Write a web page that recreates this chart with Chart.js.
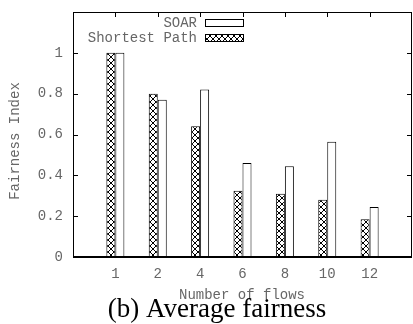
<!DOCTYPE html>
<html>
<head>
<meta charset="utf-8">
<script src="https://cdn.jsdelivr.net/npm/chart.js@4/dist/chart.umd.min.js"></script>
<style>
  html, body { margin: 0; padding: 0; background: #fff; }
  #chart { display: block; }
</style>
</head>
<body>
<canvas id="chart" width="413" height="324"></canvas>
<script>
// Number of flows on the x axis
const flowLabels = ['1', '2', '4', '6', '8', '10', '12'];
// Average fairness index per flow count
const shortestPath = [1.0, 0.80, 0.64, 0.325, 0.31, 0.28, 0.185];
const soar = [1.0, 0.77, 0.82, 0.46, 0.445, 0.565, 0.245];
const yTicks = [0, 0.2, 0.4, 0.6, 0.8, 1.0, 1.2];

const MONO = '"Liberation Mono", "DejaVu Sans Mono", monospace';
const GREY = '#666';

// crosshatch fill used by the Shortest Path bars
function makeHatch() {
  const size = 6;
  const c = document.createElement('canvas');
  c.width = size;
  c.height = size;
  const g = c.getContext('2d');
  g.fillStyle = '#fff';
  g.fillRect(0, 0, size, size);
  g.fillStyle = '#000';
  for (let i = 0; i < size; i++) {
    g.fillRect(i, i, 1, 1);
    g.fillRect(size - 1 - i, i, 1, 1);
  }
  return g.createPattern(c, 'repeat');
}
const hatch = makeHatch();

const toPoints = (vals) => vals.map((v, i) => ({ x: i + 1, y: v }));

// box frame with inward ticks on every side, plus legend and titles
const framePlugin = {
  id: 'frame',
  afterDraw(chart) {
    const { ctx, chartArea: a, scales } = chart;
    ctx.save();
    ctx.strokeStyle = '#000';
    ctx.lineWidth = 1;
    ctx.strokeRect(a.left + 0.5, a.top + 0.5, a.right - a.left - 1, a.bottom - a.top);
    ctx.lineWidth = 2;
    ctx.beginPath();
    ctx.moveTo(a.left, a.bottom);
    ctx.lineTo(a.right, a.bottom);
    ctx.stroke();

    ctx.lineWidth = 1;
    ctx.beginPath();
    yTicks.forEach((v) => {
      const y = Math.round(scales.y.getPixelForValue(v)) + 0.5;
      ctx.moveTo(a.left, y);
      ctx.lineTo(a.left + 5, y);
      ctx.moveTo(a.right, y);
      ctx.lineTo(a.right - 5, y);
    });
    flowLabels.forEach((_, i) => {
      const x = Math.round(scales.x.getPixelForValue(i + 1)) + 0.5;
      ctx.moveTo(x, a.top);
      ctx.lineTo(x, a.top + 5);
    });
    ctx.stroke();

    // legend: label on the left, sample box on the right
    const entries = [
      { text: 'SOAR', fill: '#fff', y: 23 },
      { text: 'Shortest Path', fill: hatch, y: 38 }
    ];
    ctx.font = '14px ' + MONO;
    ctx.textAlign = 'right';
    ctx.textBaseline = 'middle';
    entries.forEach((e) => {
      ctx.fillStyle = GREY;
      ctx.fillText(e.text, 197, e.y);
      ctx.fillStyle = e.fill;
      ctx.fillRect(205, e.y - 4, 39, 8);
      ctx.strokeStyle = '#000';
      ctx.strokeRect(205.5, e.y - 3.5, 38, 7);
    });

    // axis titles
    ctx.fillStyle = GREY;
    ctx.textAlign = 'center';
    ctx.fillText('Number of flows', 242, 295);
    ctx.save();
    ctx.translate(15, 141);
    ctx.rotate(-Math.PI / 2);
    ctx.fillText('Fairness Index', 0, 0);
    ctx.restore();

    ctx.fillStyle = '#000';
    ctx.font = '27px "Liberation Serif", serif';
    ctx.textBaseline = 'alphabetic';
    ctx.fillText('(b) Average fairness', 217, 317);
    ctx.restore();
  }
};

new Chart(document.getElementById('chart'), {
  type: 'bar',
  data: {
    datasets: [
      {
        label: 'Shortest Path',
        data: toPoints(shortestPath),
        backgroundColor: hatch,
        borderColor: '#000',
        borderWidth: 1
      },
      {
        label: 'SOAR',
        data: toPoints(soar),
        backgroundColor: '#fff',
        borderColor: '#000',
        borderWidth: 1
      }
    ]
  },
  options: {
    responsive: false,
    animation: false,
    layout: { padding: { top: 12, right: 1, left: 0, bottom: 0 } },
    datasets: {
      bar: { categoryPercentage: 0.425, barPercentage: 1 }
    },
    plugins: {
      legend: { display: false },
      tooltip: { enabled: false }
    },
    scales: {
      x: {
        type: 'linear',
        offset: false,
        min: 0,
        max: 8,
        grid: { display: false, drawTicks: false, offset: false },
        border: { display: false },
        afterBuildTicks: (scale) => {
          scale.ticks = flowLabels.map((_, i) => ({ value: i + 1 }));
        },
        afterFit: (scale) => {
          scale.height = 67;
          scale.paddingLeft = 0;
          scale.paddingRight = 0;
        },
        ticks: {
          padding: 9,
          color: GREY,
          font: { family: MONO, size: 14 },
          callback: (v) => flowLabels[v - 1] ?? ''
        }
      },
      y: {
        min: 0,
        max: 1.2,
        grid: { display: false, drawTicks: false },
        border: { display: false },
        afterBuildTicks: (scale) => {
          scale.ticks = yTicks.map((v) => ({ value: v }));
        },
        afterFit: (scale) => {
          scale.width = 73;
          scale.paddingTop = 0;
          scale.paddingBottom = 0;
        },
        ticks: {
          padding: 10,
          color: GREY,
          font: { family: MONO, size: 14 },
          callback: (v) => (v > 1.01 ? '' : (v === 0 || v === 1 ? String(v) : v.toFixed(1)))
        }
      }
    }
  },
  plugins: [framePlugin]
});
</script>
</body>
</html>
